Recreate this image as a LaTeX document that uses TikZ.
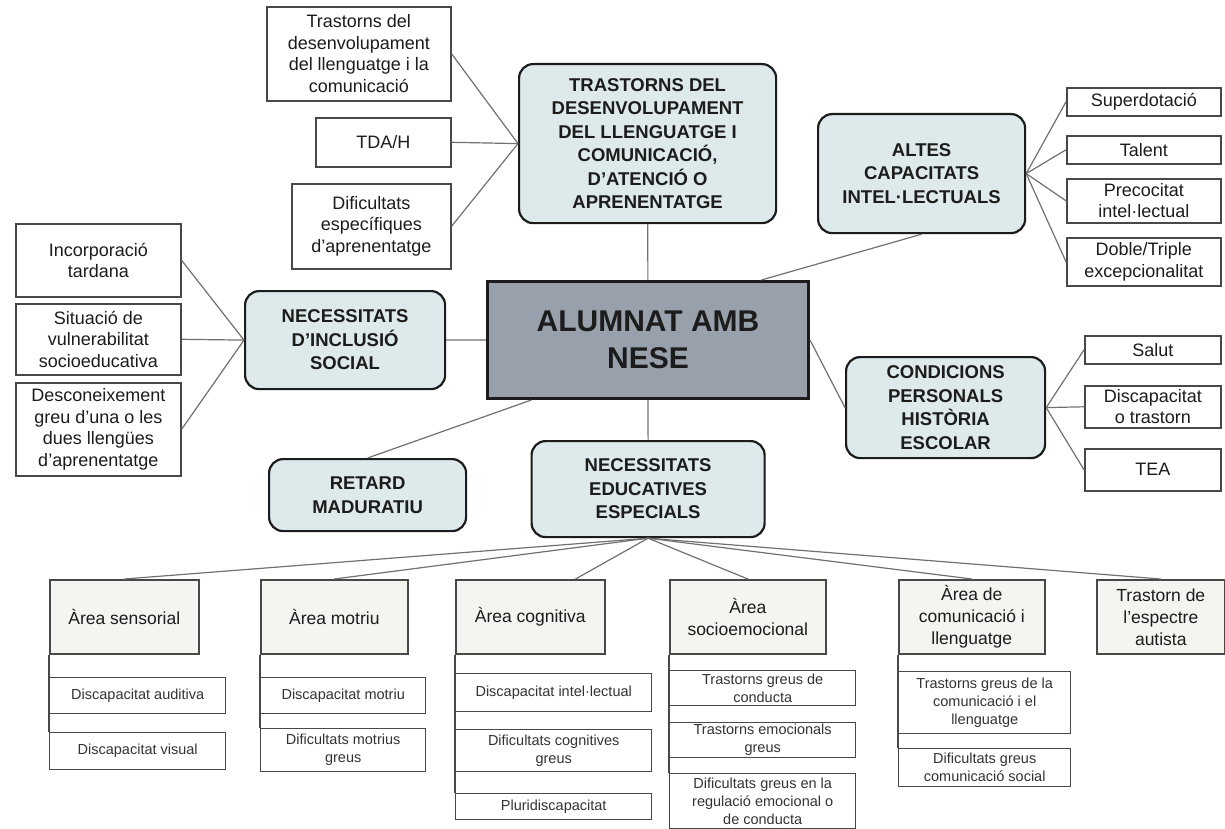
\documentclass[tikz,border=0pt]{standalone}
\usepackage{fontspec}
\setmainfont{Liberation Sans}
\usetikzlibrary{positioning,calc}

\definecolor{catfill}{RGB}{221,233,235}
\definecolor{mainfill}{RGB}{152,161,171}
\definecolor{areafill}{RGB}{244,244,240}
\definecolor{linkgray}{RGB}{112,112,112}
\definecolor{boxgray}{RGB}{72,72,72}
\definecolor{textdark}{RGB}{28,28,28}

\begin{document}
\begin{tikzpicture}
                    [x=1pt,y=-1pt,
                     wh/.style 2 args={minimum width=#1pt,minimum height=#2pt},
                     main/.style={draw=textdark,line width=3pt,fill=mainfill,align=center,anchor=north west,inner sep=0pt,
                                  text=textdark,font=\bfseries\fontsize{30}{37}\selectfont},
                     cat/.style={draw=textdark,line width=2.2pt,rounded corners=14pt,fill=catfill,align=center,anchor=north west,
                                 inner sep=0pt,text=textdark,font=\bfseries\fontsize{18.5}{23.5}\selectfont},
                     leaf/.style={draw=boxgray,line width=1.6pt,fill=white,align=center,anchor=north west,inner sep=0pt,
                                  text=textdark,font=\fontsize{18}{21.5}\selectfont},
                     area/.style={draw=boxgray,line width=1.6pt,fill=areafill,align=center,anchor=north west,inner sep=0pt,
                                  text=textdark,font=\fontsize{17.5}{22}\selectfont},
                     sub/.style={draw=boxgray,line width=1.4pt,fill=white,align=center,anchor=north west,inner sep=0pt,
                                 text=black!80,font=\fontsize{14.5}{18}\selectfont},
                     link/.style={draw=linkgray,line width=1.2pt}]

                \useasboundingbox (0,0) rectangle (1225,829);

                \node[main,wh={321}{117}] (alumnat) at (486,280) {ALUMNAT AMB\\NESE};

                \node[cat,wh={257}{159}] (trast) at (518,63) {TRASTORNS DEL\\DESENVOLUPAMENT\\DEL LLENGUATGE I\\COMUNICACIÓ,\\D'ATENCIÓ O\\APRENENTATGE};
                \node[cat,wh={207}{119}] (altes) at (817,113) {ALTES\\CAPACITATS\\INTEL·LECTUALS};
                \node[cat,wh={200}{98}] (inclusio) at (244,290) {NECESSITATS\\D'INCLUSIÓ\\SOCIAL};
                \node[cat,wh={199}{101}] (condicions) at (845,356) {CONDICIONS\\PERSONALS\\HISTÒRIA\\ESCOLAR};
                \node[cat,wh={197}{72}] (retard) at (268,458) {RETARD\\MADURATIU};
                \node[cat,wh={233}{96}] (nee) at (530.5,440) {NECESSITATS\\EDUCATIVES\\ESPECIALS};

                \node[leaf,wh={184}{94}] (tdl) at (266,6) {Trastorns del\\desenvolupament\\del llenguatge i la\\comunicació};
                \node[leaf,wh={135}{49}] (tdah) at (315,117) {TDA/H};
                \node[leaf,wh={159}{85}] (dea) at (291,183) {Dificultats\\específiques\\d'aprenentatge};

                \node[leaf,wh={154}{28}] (superdot) at (1066,87) {Superdotació};
                \node[leaf,wh={154}{28}] (talent) at (1066,135) {Talent};
                \node[leaf,wh={154}{44}] (precoc) at (1066,178) {Precocitat\\intel·lectual};
                \node[leaf,wh={154}{48}] (doble) at (1066,237) {Doble/Triple\\excepcionalitat};

                \node[leaf,wh={165}{73}] (incorp) at (15,223) {Incorporació\\tardana};
                \node[leaf,wh={165}{71}] (vulner) at (15,303) {Situació de\\vulnerabilitat\\socioeducativa};
                \node[leaf,wh={165}{93}] (descon) at (15,382) {Desconeixement\\greu d'una o les\\dues llengües\\d'aprenentatge};

                \node[leaf,wh={136}{28}] (salut) at (1084,335) {Salut};
                \node[leaf,wh={136}{42}] (discap) at (1084,385) {Discapacitat\\o trastorn};
                \node[leaf,wh={136}{42}] (tea) at (1084,448) {TEA};

                \node[area,wh={149}{74}] (asens) at (49,579) {Àrea sensorial};
                \node[area,wh={147}{74}] (amot) at (260,579) {Àrea motriu};
                \node[area,wh={149}{74}] (acog) at (455,579) {Àrea cognitiva};
                \node[area,wh={156}{74}] (asoc) at (669,579) {Àrea\\socioemocional};
                \node[area,wh={146}{74}] (acom) at (898,579) {Àrea de\\comunicació i\\llenguatge};
                \node[area,wh={128}{74}] (autis) at (1096,579) {Trastorn de\\l'espectre\\autista};

                \node[sub,wh={176}{36}] (sens1) at (49,677) {Discapacitat auditiva};
                \node[sub,wh={176}{37}] (sens2) at (49,732) {Discapacitat visual};
                \node[sub,wh={165}{36}] (mot1) at (260,677) {Discapacitat motriu};
                \node[sub,wh={165}{43}] (mot2) at (260,728) {Dificultats motrius\\greus};
                \node[sub,wh={196}{38}] (cog1) at (455,673) {Discapacitat intel·lectual};
                \node[sub,wh={196}{42}] (cog2) at (455,729) {Dificultats cognitives\\greus};
                \node[sub,wh={196}{26}] (cog3) at (455,793) {Pluridiscapacitat};
                \node[sub,wh={186}{35}] (soc1) at (669,670) {Trastorns greus de\\conducta};
                \node[sub,wh={186}{35}] (soc2) at (669,722) {Trastorns emocionals\\greus};
                \node[sub,wh={186}{55}] (soc3) at (669,773) {Dificultats greus en la\\regulació emocional o\\de conducta};
                \node[sub,wh={172}{62}] (com1) at (898,671) {Trastorns greus de la\\comunicació i el\\llenguatge};
                \node[sub,wh={172}{38}] (com2) at (898,748) {Dificultats greus\\comunicació social};

                \draw[link] (trast) -- (alumnat);
                \draw[link] (inclusio) -- (alumnat);
                \draw[link] (alumnat.east) -- (condicions.west);
                \draw[link] (altes.south) -- ($(alumnat.north east)!0.3!(alumnat.north)$);
                \draw[link] (retard.north) -- ($(alumnat.south west)!0.14!(alumnat.south east)$);
                \draw[link] (alumnat.south) -- (nee.north);

                \foreach \n in {tdl,tdah,dea} \draw[link] (\n.east) -- (trast.west);
                \foreach \n in {superdot,talent,precoc,doble} \draw[link] (altes.east) -- (\n.west);
                \foreach \n in {incorp,vulner,descon} \draw[link] (\n.east) -- (inclusio.west);
                \foreach \n in {salut,discap,tea} \draw[link] (condicions.east) -- (\n.west);

                \foreach \n in {asens,amot,asoc,acom,autis} \draw[link] (nee.south) -- (\n.north);
                \draw[link] (nee.south) -- ($(acog.north)!0.6!(acog.north east)$);

                \draw[draw=boxgray,line width=1.4pt] (asens.south west) -- (sens2.north west);
                \draw[draw=boxgray,line width=1.4pt] (amot.south west) -- (mot2.north west);
                \draw[draw=boxgray,line width=1.4pt] (acog.south west) -- (cog3.north west);
                \draw[draw=boxgray,line width=1.4pt] (asoc.south west) -- (soc3.north west);
                \draw[draw=boxgray,line width=1.4pt] (acom.south west) -- (com2.north west);

                \end{tikzpicture}
\end{document}
